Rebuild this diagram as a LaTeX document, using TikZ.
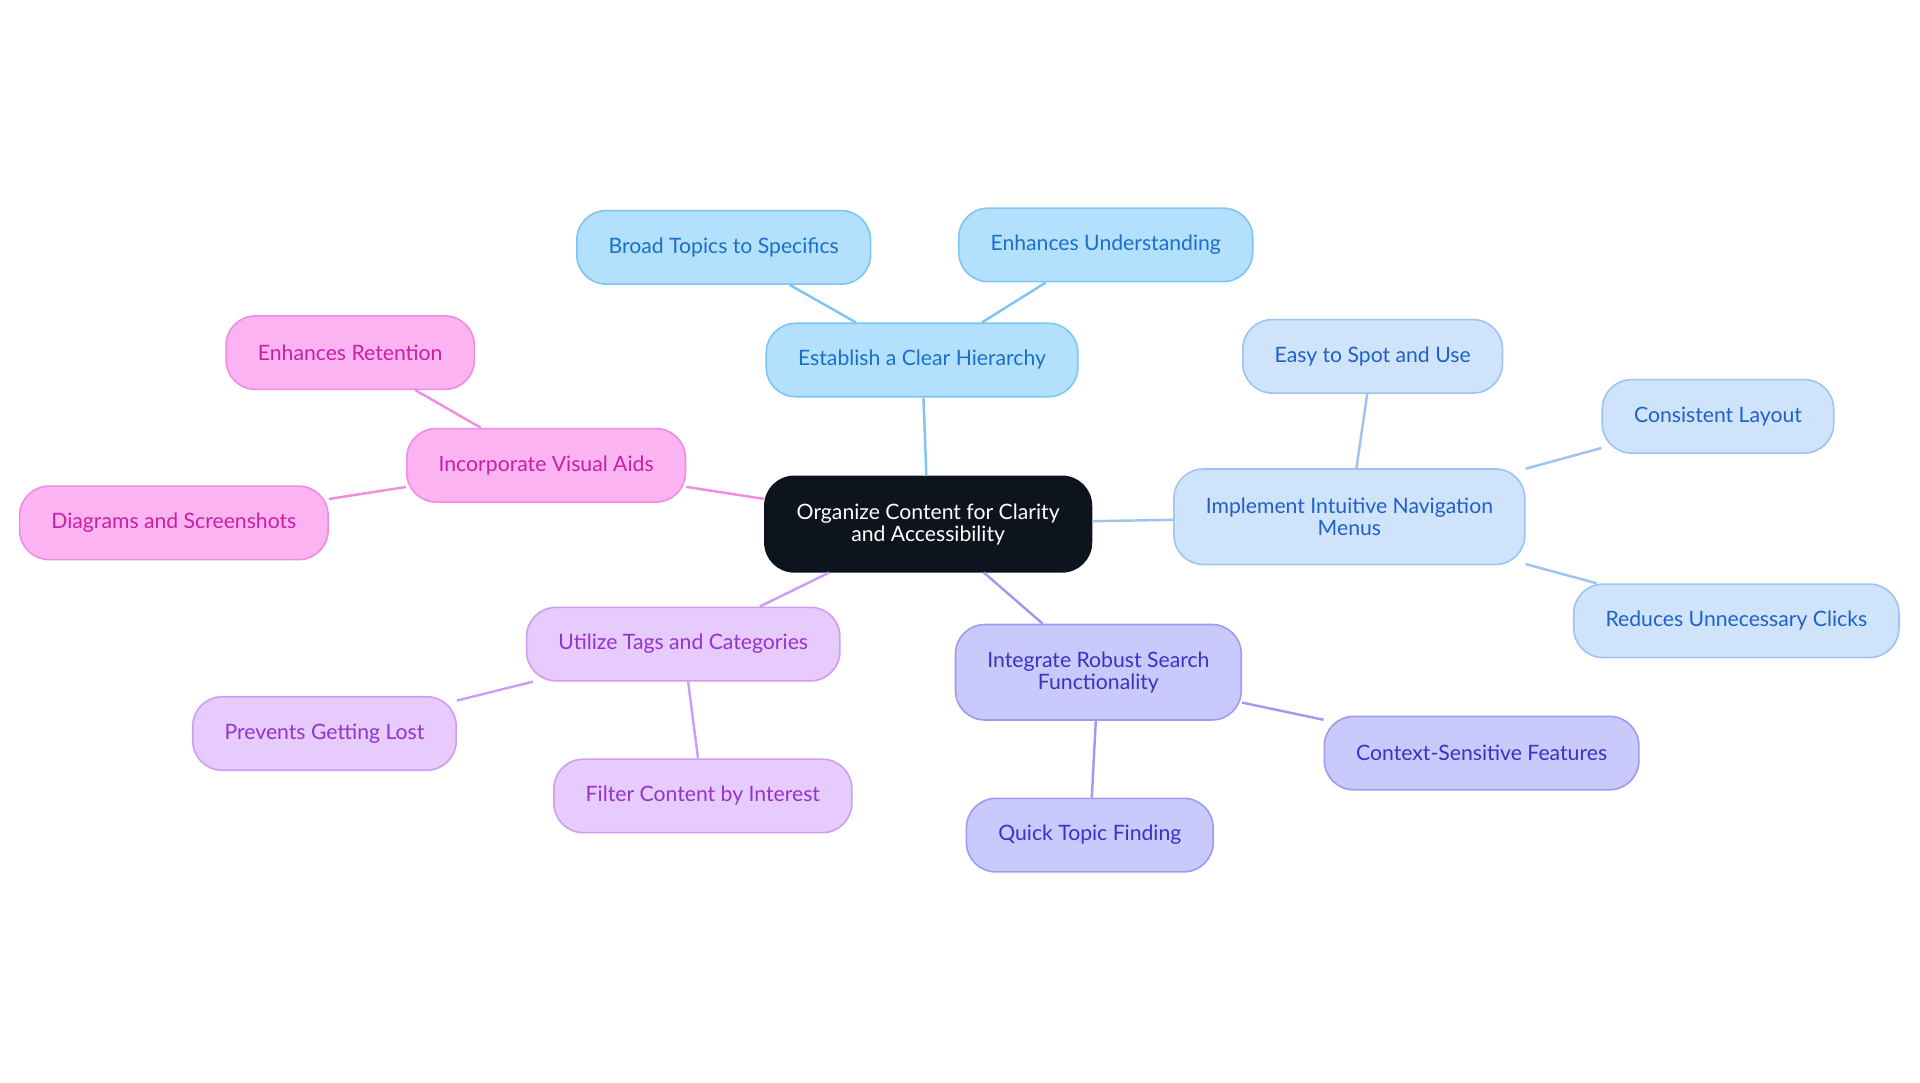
\documentclass[tikz,border=0pt]{standalone}
\usepackage{fontspec}
\setmainfont{Lato}
\usetikzlibrary{positioning}
\definecolor{rootfill}{HTML}{0E141D}
\definecolor{hierfill}{HTML}{B3E0FD}\definecolor{hierline}{HTML}{7FC4F2}\definecolor{hiertext}{HTML}{1B6FC9}
\definecolor{navfill}{HTML}{CFE4FB}\definecolor{navline}{HTML}{9DC4F1}\definecolor{navtext}{HTML}{2060C7}
\definecolor{srchfill}{HTML}{C9C9FC}\definecolor{srchline}{HTML}{9D9BEF}\definecolor{srchtext}{HTML}{3A32C6}
\definecolor{tagfill}{HTML}{E7CBFC}\definecolor{tagline}{HTML}{CC9DF0}\definecolor{tagtext}{HTML}{9333D0}
\definecolor{visfill}{HTML}{FCB3F2}\definecolor{visline}{HTML}{F08CE1}\definecolor{vistext}{HTML}{C91FA5}
\tikzset{
  bubble/.style={rounded corners=24pt, line width=1.3pt, minimum height=60pt,
    inner xsep=26pt, align=center, font=\fontsize{17.3}{18}\selectfont},
  rootbox/.style={bubble, fill=rootfill, draw=rootfill, text=white, minimum height=78pt},
  hierbox/.style={bubble, fill=hierfill, draw=hierline, text=hiertext},
  navbox/.style={bubble, fill=navfill, draw=navline, text=navtext},
  srchbox/.style={bubble, fill=srchfill, draw=srchline, text=srchtext},
  tagbox/.style={bubble, fill=tagfill, draw=tagline, text=tagtext},
  visbox/.style={bubble, fill=visfill, draw=visline, text=vistext},
  link/.style={line width=2pt},
}
\begin{document}
\begin{tikzpicture}[x=1pt, y=-1pt]
  \useasboundingbox (0,0) rectangle (1568,884);

  % root
  \node[rootbox] (root) at (758,428) {Organize Content for Clarity\\and Accessibility};

  % hierarchy branch
  \node[hierbox] (hier) at (753,294) {Establish a Clear Hierarchy};
  \node[hierbox] (broad) at (591,202) {Broad Topics to Specifics};
  \node[hierbox] (underst) at (903,200) {Enhances Understanding};

  % navigation branch
  \node[navbox, minimum height=78pt] (nav) at (1102,422) {Implement Intuitive Navigation\\Menus};
  \node[navbox] (easy) at (1121,291) {Easy to Spot and Use};
  \node[navbox] (layout) at (1403,340) {Consistent Layout};
  \node[navbox] (clicks) at (1418,507) {Reduces Unnecessary Clicks};

  % search branch
  \node[srchbox, minimum height=78pt] (search) at (897,549) {Integrate Robust Search\\Functionality};
  \node[srchbox] (context) at (1210,615) {Context-Sensitive Features};
  \node[srchbox] (quick) at (890,682) {Quick Topic Finding};

  % tags branch
  \node[tagbox] (tags) at (558,526) {Utilize Tags and Categories};
  \node[tagbox] (lost) at (265,599) {Prevents Getting Lost};
  \node[tagbox] (filter) at (574,650) {Filter Content by Interest};

  % visual branch
  \node[visbox] (visual) at (446,380) {Incorporate Visual Aids};
  \node[visbox] (retent) at (286,288) {Enhances Retention};
  \node[visbox] (diagr) at (142,427) {Diagrams and Screenshots};

  % connectors
  \draw[link, hierline] (root) -- (hier);
  \draw[link, hierline] (hier) -- (broad);
  \draw[link, hierline] (hier) -- (underst);
  \draw[link, navline] (root) -- (nav);
  \draw[link, navline] (nav) -- (easy);
  \draw[link, navline] (nav) -- (layout);
  \draw[link, navline] (nav) -- (clicks);
  \draw[link, srchline] (root) -- (search);
  \draw[link, srchline] (search) -- (context);
  \draw[link, srchline] (search) -- (quick);
  \draw[link, tagline] (root) -- (tags);
  \draw[link, tagline] (tags) -- (lost);
  \draw[link, tagline] (tags) -- (filter);
  \draw[link, visline] (root) -- (visual);
  \draw[link, visline] (visual) -- (retent);
  \draw[link, visline] (visual) -- (diagr);
\end{tikzpicture}
\end{document}
